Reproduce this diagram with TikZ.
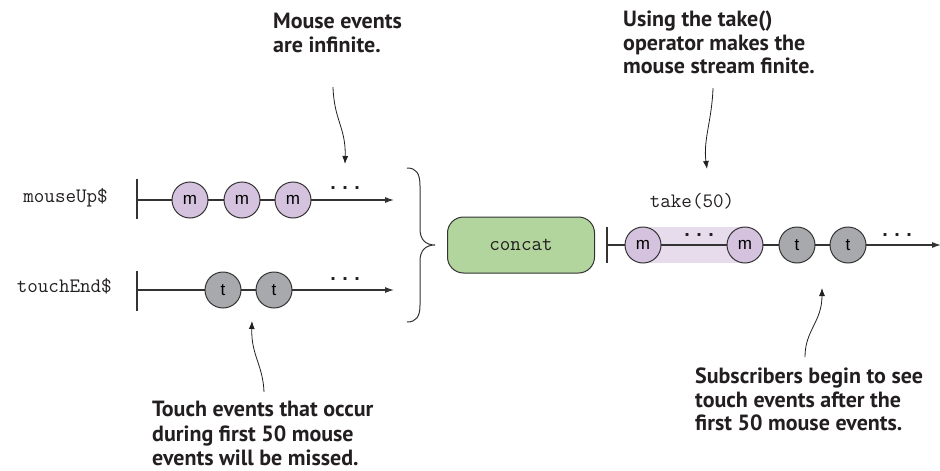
\documentclass[tikz,border=0pt]{standalone}
\usepackage{fontspec}
\newfontfamily\dotfont{Liberation Mono}
\newfontfamily\notefont{PT Sans}
\newfontfamily\circfont{Liberation Sans}
\usetikzlibrary{arrows.meta}
\definecolor{mpurple}{HTML}{D4C2DF}
\definecolor{mshade}{HTML}{E6DCEC}
\definecolor{tgray}{HTML}{A7A9AC}
\definecolor{cgreen}{HTML}{B2D59E}
\definecolor{edge}{HTML}{333333}
\definecolor{ink}{HTML}{231F20}
\tikzset{
  x=1pt, y=-1pt,
  stream/.style={line width=1.1pt, draw=edge, -{Latex[length=9pt,width=6pt]}},
  tick/.style={line width=1.1pt, draw=edge},
  evm/.style={circle, draw=edge, line width=1pt, fill=mpurple, minimum size=36pt, inner sep=0pt, font=\circfont\fontsize{17}{17}\selectfont},
  evt/.style={circle, draw=edge, line width=1pt, fill=tgray, minimum size=36pt, inner sep=0pt, font=\circfont\fontsize{17}{17}\selectfont},
  mono/.style={font=\ttfamily\fontsize{20.5}{22}\selectfont, inner sep=0pt, text=ink},
  dots/.style={font=\dotfont\bfseries\fontsize{20}{20}\selectfont, inner sep=0pt, anchor=base, text=ink},
  note/.style={font=\notefont\bfseries\fontsize{22}{23.5}\selectfont, align=left, inner sep=0pt, anchor=north west, text=ink},
  pointer/.style={line width=0.8pt, draw=ink, -{Latex[length=8pt,width=6pt]}},
  opbox/.style={draw=black!80, line width=1pt, fill=cgreen, rounded corners=16pt, minimum width=147pt, minimum height=56pt, font=\ttfamily\fontsize{20.5}{22}\selectfont, text=ink}
}
\begin{document}
\begin{tikzpicture}
\useasboundingbox (0,0) rectangle (940,471);

% ---- mouseUp$ stream
\node[mono, anchor=mid east] (lm) at (108,200) {mouseUp\$};
\coordinate (ms) at (137,200);
\coordinate (me) at (394,200);
\draw[tick] (137,179) -- (137,219);
\draw[stream] (ms) -- (me);
\node[evm] (m1) at (190,200) {m};
\node[evm] (m2) at (242,200) {m};
\node[evm] (m3) at (293,200) {m};
\node[dots] (d1) at (345,189) {...};

% ---- touchEnd$ stream
\node[mono, anchor=mid east] (lt) at (112,290) {touchEnd\$};
\coordinate (ts) at (137,290);
\coordinate (te) at (394,290);
\draw[tick] (137,271) -- (137,311);
\draw[stream] (ts) -- (te);
\node[evt] (t1) at (223,290) {t};
\node[evt] (t2) at (274,290) {t};
\node[dots] (d2) at (345,280) {...};

% ---- brace
\draw[line width=1pt, draw=edge] (407,168) .. controls (416,168) and (420,173) .. (420,186)
  -- (420,229) .. controls (420,240) and (426,245) .. (435,245)
  .. controls (426,245) and (420,250) .. (420,261)
  -- (420,305) .. controls (420,317) and (416,322) .. (407,322);

% ---- concat
\node[opbox] (concat) at (521,245) {concat};

% ---- output stream
\fill[mshade] (643,227) rectangle (745,263);
\node[mono, anchor=mid] (take) at (692,205) {take(50)};
\coordinate (os) at (607,245);
\coordinate (oe) at (941,245);
\draw[tick] (607,227) -- (607,263);
\draw[stream] (os) -- (oe);
\node[evm] (o1) at (643,245) {m};
\node[evm] (o2) at (745,245) {m};
\node[evt] (o3) at (797,245) {t};
\node[evt] (o4) at (848,245) {t};
\node[dots] (d3) at (699,236) {...};
\node[dots] (d4) at (897,236) {...};

% ---- annotations
\node[note] (n1) at (273,13) {Mouse events\\are infinite.};
\coordinate (n1s) at (333,87);
\coordinate (n1e) at (345,164);
\draw[pointer] (n1s) .. controls (334,120) and (346,128) .. (n1e);

\node[note] (n2) at (623,11) {Using the take()\\operator makes the\\mouse stream finite.};
\coordinate (n2s) at (713,88);
\coordinate (n2e) at (707,169);
\draw[pointer] (n2s) .. controls (712,120) and (703,140) .. (n2e);

\node[note, font=\notefont\bfseries\fontsize{22}{24.5}\selectfont] (n3) at (152,401) {Touch events that occur\\during first 50 mouse\\events will be missed.};
\coordinate (n3s) at (264,392);
\coordinate (n3e) at (252,321);
\draw[pointer] (n3s) .. controls (263,365) and (251,355) .. (n3e);

\node[note] (n4) at (695,368) {Subscribers begin to see\\touch events after the\\first 50 mouse events.};
\coordinate (n4s) at (805,357);
\coordinate (n4e) at (822,288);
\draw[pointer] (n4s) .. controls (805,330) and (822,322) .. (n4e);
\end{tikzpicture}
\end{document}
